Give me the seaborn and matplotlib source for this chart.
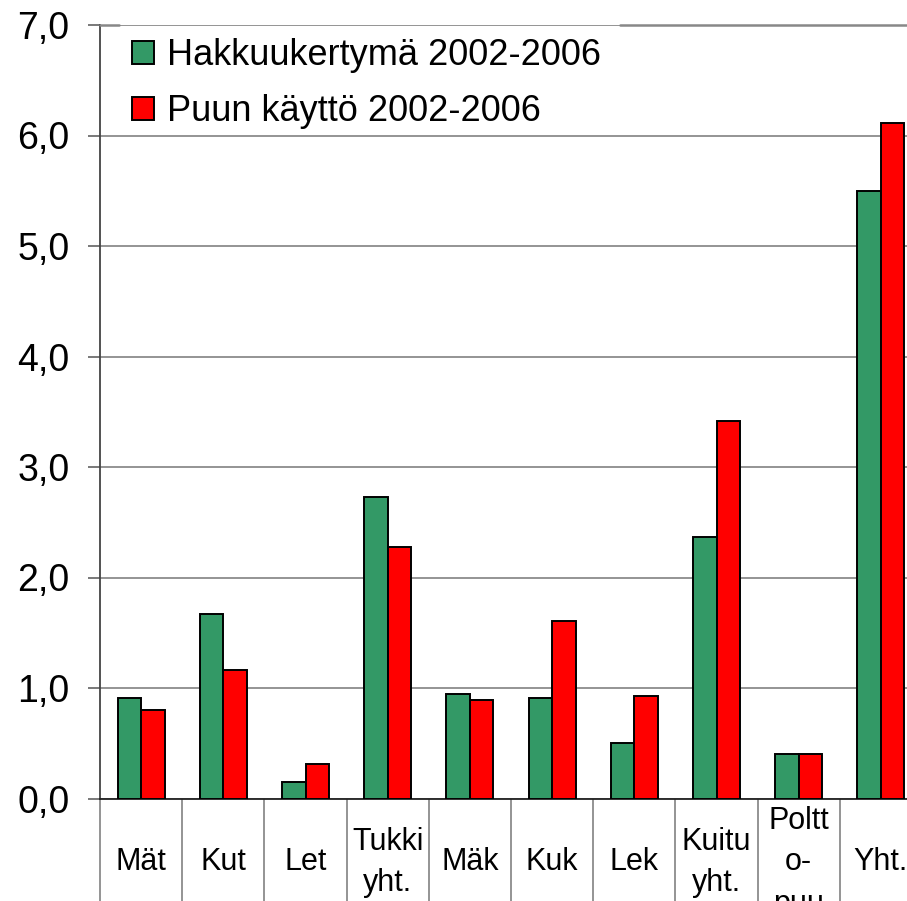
import numpy as np
import pandas as pd
import matplotlib
matplotlib.use("Agg")
import matplotlib.pyplot as plt
from matplotlib.ticker import FixedLocator, FuncFormatter
import seaborn as sns

categories = ["Mät", "Kut", "Let", "Tukki\nyht.", "Mäk", "Kuk", "Lek",
              "Kuitu\nyht.", "Poltt\no-\npuu", "Yht."]
hakkuu = [0.91, 1.67, 0.15, 2.73, 0.95, 0.91, 0.50, 2.37, 0.40, 5.50]
kaytto = [0.80, 1.16, 0.31, 2.28, 0.89, 1.61, 0.93, 3.42, 0.40, 6.11]
series = ["Hakkuukertymä 2002-2006", "Puun käyttö 2002-2006"]
colors = ["#339966", "#FF0000"]

df = pd.DataFrame({
    "category": categories * 2,
    "value": hakkuu + kaytto,
    "series": [series[0]] * len(categories) + [series[1]] * len(categories),
})

sns.set_theme(style="white")
plt.rcParams["font.family"] = ["Liberation Sans", "DejaVu Sans"]
plt.rcParams["text.color"] = "black"
plt.rcParams["xtick.labelcolor"] = "black"
plt.rcParams["ytick.labelcolor"] = "black"

fig = plt.figure(figsize=(9.07, 9.01), dpi=100)
ax = fig.add_axes([100 / 907, (901 - 798.5) / 901, 822 / 907, 773.5 / 901])

sns.barplot(data=df, x="category", y="value", hue="series", order=categories,
            hue_order=series, palette=colors, saturation=1, width=0.57,
            edgecolor="black", linewidth=1.4, ax=ax, legend=False, zorder=3)

ax.set_ylim(0, 7)
ax.set_xlim(-0.5, len(categories) - 0.5)
ax.set_xlabel("")
ax.set_ylabel("")

# y axis
ax.yaxis.set_major_locator(FixedLocator(np.arange(0, 8)))
ax.yaxis.set_major_formatter(FuncFormatter(lambda v, p: f"{v:.1f}".replace(".", ",")))
ax.grid(axis="y", color="#777777", linewidth=1.1, zorder=0)
ax.tick_params(axis="y", which="major", direction="out", length=9, width=1.1,
               color="#555555", labelsize=27, pad=13, left=True)

# x axis: category table look
ax.tick_params(axis="x", which="major", length=0, labelsize=22, pad=46)
plt.setp(ax.get_xticklabels(), va="center", linespacing=1.5)
ax.xaxis.set_minor_locator(FixedLocator(np.arange(-0.5, len(categories), 1.0)))
ax.tick_params(axis="x", which="minor", bottom=True, direction="out", length=80,
               width=1.1, color="#777777")

ax.spines["left"].set_color("#444444")
ax.spines["left"].set_linewidth(1.3)
ax.spines["bottom"].set_color("#222222")
ax.spines["bottom"].set_linewidth(1.3)
ax.spines["top"].set_visible(False)
ax.spines["right"].set_visible(False)

# top border, interrupted where the legend sits
for x0, x1 in [(0.0, 0.023), (0.633, 1.0)]:
    ax.axhline(7, xmin=x0, xmax=x1, color="#888888", linewidth=1.8,
               clip_on=False, zorder=4)

handles = [plt.Rectangle((0, 0), 1, 1, facecolor=c, edgecolor="black", linewidth=1.4)
           for c in colors]
leg = fig.legend(handles, series, loc="upper left",
                 bbox_to_anchor=(114 / 907, 1 - 20 / 901), fontsize=26,
                 frameon=False, handlelength=0.6, handleheight=0.6,
                 handletextpad=0.36, labelspacing=0.58, borderpad=0.5,
                 borderaxespad=0)

fig.savefig("out.png", dpi=100)
